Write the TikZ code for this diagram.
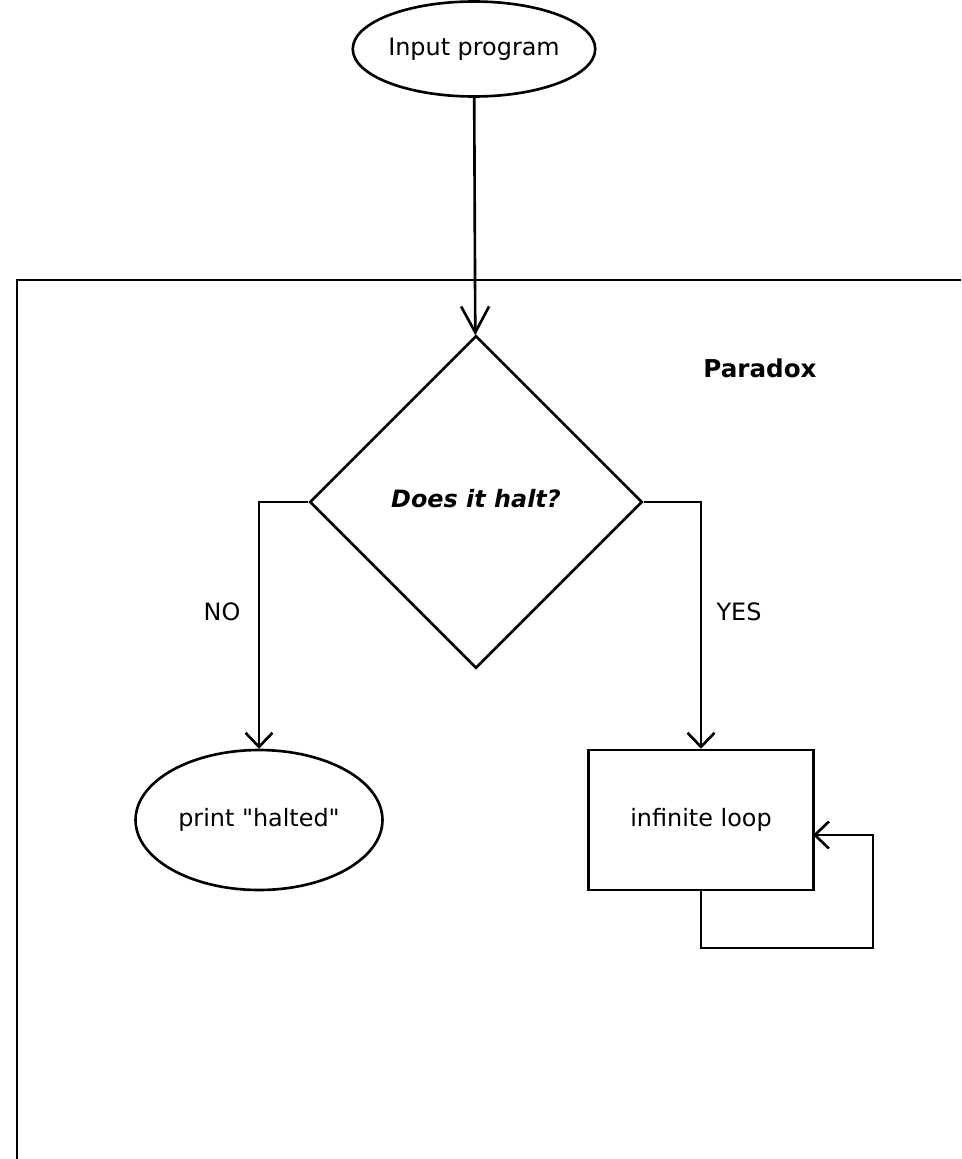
\documentclass[tikz,border=0pt]{standalone}
\usepackage{fontspec}
\setmainfont{DejaVu Sans}
\usetikzlibrary{shapes.geometric,arrows.meta}
\tikzset{
  flow/.style={line width=1.5pt,-{Straight Barb[length=2.8mm,width=5.4mm]}},
  longflow/.style={line width=1.5pt,-{Straight Barb[length=5.2mm,width=5.6mm]}},
  startstop/.style={draw,line width=1.5pt,ellipse,inner sep=0pt},
  decision/.style={draw,line width=1.5pt,diamond,aspect=1,inner sep=0pt,minimum size=6.65cm},
  process/.style={draw,line width=1.5pt,rectangle,minimum width=4.5cm,minimum height=2.8cm}
}
\begin{document}
\begin{tikzpicture}[x=0.02cm,y=-0.02cm,font=\fontsize{13.6}{16}\selectfont]
\useasboundingbox (0,0) rectangle (961,1159);
\node [startstop,minimum width=4.76cm,minimum height=1.9cm] (input) at (474,49) {Input program};
\draw [line width=1.5pt] (961,280) -- (17,280) -- (17,1159);
\node [font=\fontsize{14}{16}\selectfont\bfseries] (paradox) at (760,368) {Paradox};
\node [decision] (halt) at (476,502) {\raisebox{4pt}{\bfseries\itshape Does it halt?}};
\node [startstop,minimum width=4.94cm,minimum height=2.8cm] (halted) at (259,820) {print \textquotedbl halted\textquotedbl};
\node [process] (loop) at (701,820) {infinite loop};
\node (no) at (222,612) {NO};
\node (yes) at (739,612) {YES};
\coordinate (loopturn) at (873,948);
\coordinate (loopin) at (813,835);
\draw [longflow] (input) -- (halt);
\draw [flow] (halt.west) -| (halted.north);
\draw [flow] (halt.east) -| (loop.north);
\draw [flow] (loop.south) |- (loopturn) |- (loopin);
\end{tikzpicture}
\end{document}
